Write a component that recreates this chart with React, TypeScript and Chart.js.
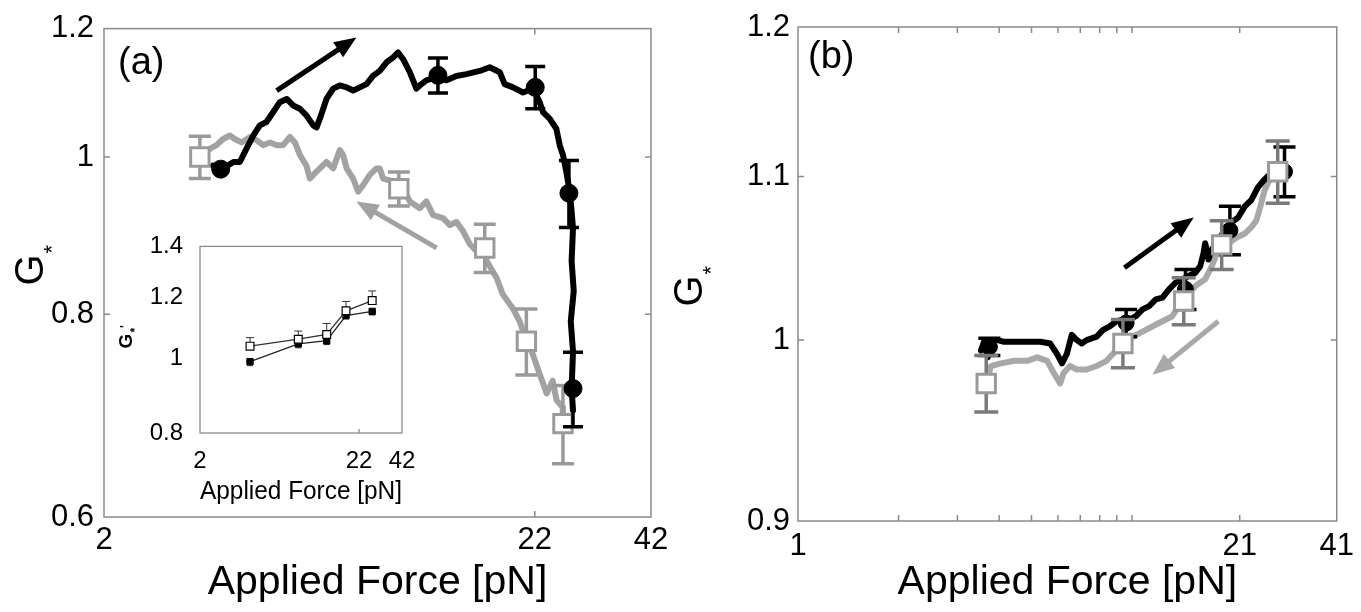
import React, { useEffect, useRef } from 'react';
import { Chart, registerables } from 'chart.js';

Chart.register(...registerables);

const FONT = '"Liberation Sans", Arial, Helvetica, sans-serif';

// ---------- Panel (a) ----------
// increasing force (black trace)
const aUpForce = [3.67, 3.88, 4.11, 4.26, 4.42, 4.59, 4.76, 4.94, 5.13, 5.32, 5.53, 5.73, 5.95, 6.17, 6.41, 6.53, 6.65, 6.9, 7.16, 7.43, 7.72, 8.0, 8.31, 8.62, 8.94, 9.28, 9.64, 10.0, 10.28, 10.57, 10.97, 11.38, 11.6, 12.03, 12.73, 13.45, 14.22, 15.04, 16.19, 17.12, 18.1, 18.6, 19.49, 20.6, 21.78, 22.6, 23.02, 23.89, 24.8, 25.27, 25.73, 26.22, 26.71, 26.96, 27.21, 27.0, 27.32, 26.87, 27.21, 27.0, 27.21];
const aUpG = [0.988, 0.984, 0.993, 0.993, 1.012, 1.031, 1.046, 1.051, 1.066, 1.081, 1.086, 1.076, 1.071, 1.061, 1.046, 1.043, 1.056, 1.086, 1.102, 1.107, 1.104, 1.099, 1.104, 1.109, 1.122, 1.13, 1.144, 1.152, 1.16, 1.149, 1.128, 1.102, 1.107, 1.115, 1.12, 1.115, 1.122, 1.125, 1.13, 1.136, 1.128, 1.109, 1.104, 1.096, 1.102, 1.081, 1.066, 1.056, 1.041, 1.017, 1.003, 0.979, 0.952, 0.93, 0.904, 0.863, 0.827, 0.792, 0.759, 0.72, 0.698];
// decreasing force (grey trace)
const aDownForce = [3.41, 3.61, 3.74, 3.88, 4.03, 4.14, 4.3, 4.51, 4.68, 4.85, 5.04, 5.23, 5.42, 5.63, 5.79, 5.95, 6.17, 6.29, 6.41, 6.65, 6.9, 7.16, 7.43, 7.57, 7.72, 8.0, 8.23, 8.46, 8.78, 9.11, 9.28, 9.46, 10.0, 10.57, 10.97, 11.6, 12.03, 12.49, 13.2, 13.71, 14.22, 14.76, 15.31, 15.9, 16.65, 16.83, 17.8, 18.4, 19.45, 20.22, 21.02, 21.75, 22.6, 23.5, 24.3, 24.84, 25.69, 25.73];
const aDownG = [1.0, 1.012, 1.017, 1.026, 1.031, 1.026, 1.021, 1.029, 1.024, 1.017, 1.021, 1.017, 1.017, 1.029, 1.021, 1.003, 0.988, 0.97, 0.975, 0.984, 0.993, 0.984, 1.01, 1.003, 0.984, 0.97, 0.952, 0.961, 0.975, 0.984, 0.984, 0.97, 0.966, 0.956, 0.939, 0.93, 0.939, 0.921, 0.917, 0.908, 0.912, 0.9, 0.884, 0.875, 0.878, 0.863, 0.842, 0.823, 0.807, 0.792, 0.77, 0.756, 0.735, 0.715, 0.728, 0.708, 0.701, 0.685];
// markers with error bars
const aCircleForce = [3.83, 12.83, 22.05, 26.6, 27.21];
const aCircleG = [0.983, 1.123, 1.104, 0.95, 0.72];
const aCircleErr = [0, 0.028, 0.033, 0.045, 0.038];
const aSquareForce = [3.41, 10.32, 16.65, 20.99, 25.73];
const aSquareG = [1.0, 0.956, 0.879, 0.77, 0.685];
const aSquareErr = [0.03, 0.023, 0.03, 0.036, 0.038];
// axes
const aXTicks = [2, 22, 42];
const aXTickLabels = ['2', '22', '42'];
const aYTicks = [0.6, 0.8, 1, 1.2];
const aYTickLabels = ['0.6', '0.8', '1', '1.2'];
// arrows [force, G]
const aArrowUpFrom = [5.23, 1.099];
const aArrowUpTo = [8.15, 1.185];
const aArrowDownFrom = [12.73, 0.879];
const aArrowDownTo = [8.15, 0.939];

// ---------- Inset of (a) ----------
const insetForce = [4.25, 8.8, 13.5, 18.06, 26.8];
const insetOpenG = [1.038, 1.06, 1.075, 1.154, 1.19];
const insetOpenErr = [0.027, 0.026, 0.036, 0.033, 0.035];
const insetFilledG = [0.991, 1.045, 1.055, 1.138, 1.152];
const insetFilledErr = [0.012, 0.012, 0.012, 0.012, 0.012];
const insetXTicks = [2, 22, 42];
const insetXTickLabels = ['2', '22', '42'];
const insetYTicks = [0.8, 1, 1.2, 1.4];
const insetYTickLabels = ['0.8', '1', '1.2', '1.4'];

// ---------- Panel (b) ----------
const bUpForce = [3.53, 3.62, 3.7, 3.8, 3.96, 4.14, 4.44, 4.86, 5.32, 5.69, 5.96, 6.17, 6.38, 6.6, 6.83, 7.07, 7.31, 7.83, 8.19, 8.57, 8.97, 9.39, 9.82, 10.27, 10.75, 11.25, 11.78, 12.33, 12.9, 13.5, 14.13, 14.77, 15.47, 16.0, 16.37, 16.55, 16.74, 16.93, 17.33, 18.13, 18.97, 19.86, 20.77, 21.75, 22.76, 23.81, 24.92, 26.09];
const bUpG = [0.994, 1.0, 0.99, 1.0, 1.0, 0.999, 0.999, 0.999, 0.999, 0.998, 0.992, 0.9865, 0.992, 1.003, 1.0, 0.998, 1.0, 1.002, 1.006, 1.008, 1.011, 1.012, 1.012, 1.014, 1.018, 1.02, 1.024, 1.025, 1.03, 1.034, 1.036, 1.038, 1.04, 1.044, 1.052, 1.058, 1.054, 1.048, 1.054, 1.06, 1.066, 1.071, 1.074, 1.081, 1.085, 1.093, 1.098, 1.102];
const bDownForce = [3.66, 3.78, 4.05, 4.44, 4.86, 5.2, 5.57, 5.83, 6.09, 6.24, 6.52, 6.83, 7.31, 7.83, 8.38, 8.97, 9.39, 10.05, 11.0, 12.04, 13.2, 13.8, 14.45, 15.47, 16.55, 17.33, 18.13, 19.41, 20.77, 21.75, 22.76, 23.55, 24.08, 24.92, 26.09, 27.29];
const bDownG = [0.975, 0.985, 0.9865, 0.988, 0.988, 0.99, 0.988, 0.981, 0.975, 0.981, 0.985, 0.983, 0.983, 0.985, 0.988, 0.994, 0.998, 1.002, 1.006, 1.01, 1.014, 1.02, 1.025, 1.032, 1.036, 1.044, 1.054, 1.058, 1.062, 1.064, 1.068, 1.072, 1.079, 1.091, 1.1, 1.103];
const bCircleForce = [3.74, 9.6, 14.45, 19.63, 28.6];
const bCircleG = [0.996, 1.01, 1.03, 1.066, 1.103];
const bCircleErr = [0.005, 0.008, 0.012, 0.015, 0.016];
const bSquareForce = [3.66, 9.39, 14.28, 18.55, 27.29];
const bSquareG = [0.975, 0.998, 1.023, 1.057, 1.103];
const bSquareErr = [0.016, 0.014, 0.014, 0.015, 0.02];
const bXTicks = [1, 2, 3, 4, 5, 6, 7, 8, 9, 10, 21, 41];
const bXTickLabels = ['1', '', '', '', '', '', '', '', '', '', '21', '41'];
const bYTicks = [0.9, 1, 1.1, 1.2];
const bYTickLabels = ['0.9', '1', '1.1', '1.2'];
const bArrowUpFrom = [9.49, 1.043];
const bArrowUpTo = [15.29, 1.074];
const bArrowDownFrom = [18.13, 1.011];
const bArrowDownTo = [11.51, 0.98];

// ---------- helpers ----------
const pts = (xs: number[], ys: number[]) => xs.map((x, i) => ({ x, y: ys[i] }));
const labelOf = (vals: number[], labels: string[], v: number) => {
  const i = vals.findIndex((t) => Math.abs(t - v) < 1e-9);
  return i >= 0 ? labels[i] : '';
};

function logAxis(min: number, max: number, ticks: number[], labels: string[], size: number, pad: number, prop: string, val: number, title?: any) {
  return {
    type: 'logarithmic',
    min,
    max,
    grid: { display: false, drawTicks: false },
    border: { display: false },
    afterBuildTicks: (s: any) => {
      s.ticks = ticks.map((v) => ({ value: v }));
    },
    afterFit: (s: any) => {
      s[prop] = val;
    },
    ticks: {
      autoSkip: false,
      maxRotation: 0,
      minRotation: 0,
      padding: pad,
      color: '#000',
      font: { family: FONT, size },
      callback: (v: any) => labelOf(ticks, labels, Number(v)),
    },
    title: title || { display: false },
  };
}

function drawErr(ctx: any, xs: any, ys: any, e: any) {
  ctx.save();
  ctx.strokeStyle = e.color;
  ctx.lineWidth = e.width;
  ctx.lineCap = 'butt';
  e.xs.forEach((x: number, i: number) => {
    const err = e.errs[i];
    if (!err) return;
    const px = xs.getPixelForValue(x);
    const pc = ys.getPixelForValue(e.ys[i]);
    const ph = ys.getPixelForValue(e.ys[i] + err);
    const pl = ys.getPixelForValue(e.ys[i] - err);
    const top = e.mode === 'down' ? pc : ph;
    const bot = e.mode === 'up' ? pc : pl;
    ctx.beginPath();
    ctx.moveTo(px, top);
    ctx.lineTo(px, bot);
    if (e.mode !== 'down') {
      ctx.moveTo(px - e.cap / 2, ph);
      ctx.lineTo(px + e.cap / 2, ph);
    }
    if (e.mode !== 'up') {
      ctx.moveTo(px - e.cap / 2, pl);
      ctx.lineTo(px + e.cap / 2, pl);
    }
    ctx.stroke();
  });
  ctx.restore();
}

function drawArrow(ctx: any, xs: any, ys: any, a: any) {
  const x1 = xs.getPixelForValue(a.from[0]);
  const y1 = ys.getPixelForValue(a.from[1]);
  const x2 = xs.getPixelForValue(a.to[0]);
  const y2 = ys.getPixelForValue(a.to[1]);
  const ang = Math.atan2(y2 - y1, x2 - x1);
  const bx = x2 - Math.cos(ang) * a.head;
  const by = y2 - Math.sin(ang) * a.head;
  ctx.save();
  ctx.strokeStyle = a.color;
  ctx.fillStyle = a.color;
  ctx.lineWidth = a.width;
  ctx.beginPath();
  ctx.moveTo(x1, y1);
  ctx.lineTo(bx + Math.cos(ang) * 2, by + Math.sin(ang) * 2);
  ctx.stroke();
  ctx.beginPath();
  ctx.moveTo(x2, y2);
  ctx.lineTo(bx + Math.sin(ang) * a.headW, by - Math.cos(ang) * a.headW);
  ctx.lineTo(bx - Math.sin(ang) * a.headW, by + Math.cos(ang) * a.headW);
  ctx.closePath();
  ctx.fill();
  ctx.restore();
}

function makeDecor(id: string, d: any) {
  return {
    id,
    beforeDatasetDraw(chart: any, args: any) {
      const xs = chart.scales.x;
      const ys = chart.scales.y;
      (d.errs || []).filter((e: any) => e.ds === args.index).forEach((e: any) => drawErr(chart.ctx, xs, ys, e));
    },
    afterDatasetsDraw(chart: any) {
      const { ctx, chartArea: ca } = chart;
      const xs = chart.scales.x;
      const ys = chart.scales.y;
      ctx.save();
      ctx.strokeStyle = d.frameColor;
      ctx.lineWidth = d.frameWidth;
      ctx.strokeRect(ca.left, ca.top, ca.right - ca.left, ca.bottom - ca.top);
      ctx.beginPath();
      const L = d.tickLen;
      d.xTicks.forEach((v: number) => {
        const p = xs.getPixelForValue(v);
        ctx.moveTo(p, ca.bottom);
        ctx.lineTo(p, ca.bottom - L);
        if (d.mirror) {
          ctx.moveTo(p, ca.top);
          ctx.lineTo(p, ca.top + L);
        }
      });
      d.yTicks.forEach((v: number) => {
        const p = ys.getPixelForValue(v);
        ctx.moveTo(ca.left, p);
        ctx.lineTo(ca.left + L, p);
        if (d.mirror) {
          ctx.moveTo(ca.right, p);
          ctx.lineTo(ca.right - L, p);
        }
      });
      ctx.stroke();
      ctx.restore();
      (d.arrows || []).forEach((a: any) => drawArrow(ctx, xs, ys, a));
      if (d.label) {
        ctx.save();
        ctx.fillStyle = '#000';
        ctx.font = `${d.label.size}px ${FONT}`;
        ctx.textAlign = 'left';
        ctx.textBaseline = 'alphabetic';
        ctx.fillText(d.label.text, ca.left + d.label.dx, ca.top + d.label.dy);
        ctx.restore();
      }
      if (d.yTitle) {
        const t = d.yTitle;
        ctx.save();
        ctx.translate(t.x, t.y);
        ctx.rotate(-Math.PI / 2);
        ctx.fillStyle = '#000';
        ctx.textAlign = 'left';
        ctx.textBaseline = 'alphabetic';
        ctx.font = `${t.bold ? 'bold ' : ''}${t.size}px ${FONT}`;
        const gw = ctx.measureText('G').width;
        ctx.fillText('G', -gw / 2, 0);
        ctx.font = `${t.bold ? 'bold ' : ''}${t.subSize}px ${FONT}`;
        const sw = ctx.measureText('*').width;
        ctx.fillText('*', gw / 2 + 1, t.subDrop);
        if (t.sup) ctx.fillText(t.sup, gw / 2 + 1 + sw, t.supRise);
        ctx.restore();
      }
    },
  };
}

const GREY_LINE = '#a2a2a2';
const GREY_MARK = '#9a9a9a';

export default function App() {
  const aRef = useRef<HTMLCanvasElement>(null);
  const bRef = useRef<HTMLCanvasElement>(null);
  const iRef = useRef<HTMLCanvasElement>(null);

  useEffect(() => {
    const charts: any[] = [];
    const traceDs = (xs: number[], ys: number[], color: string, order: number) => ({
      data: pts(xs, ys),
      showLine: true,
      borderColor: color,
      borderWidth: 6,
      borderJoinStyle: 'round',
      borderCapStyle: 'round',
      pointRadius: 0,
      order,
    });
    const xTitle = {
      display: true,
      text: 'Applied Force [pN]',
      color: '#000',
      font: { family: FONT, size: 41 },
      padding: { top: 0, bottom: 5 },
    };

    // Panel (a)
    charts.push(
      new Chart(aRef.current as any, {
        type: 'scatter',
        data: {
          datasets: [
            traceDs(aDownForce, aDownG, GREY_LINE, 3),
            traceDs(aUpForce, aUpG, '#000', 2),
            {
              data: pts(aSquareForce, aSquareG),
              pointStyle: 'rect',
              pointRadius: 13,
              pointBackgroundColor: '#fff',
              pointBorderColor: GREY_MARK,
              pointBorderWidth: 3,
              order: 1,
            },
            {
              data: pts(aCircleForce, aCircleG),
              pointStyle: 'circle',
              pointRadius: 9,
              pointBackgroundColor: '#000',
              pointBorderColor: '#000',
              pointBorderWidth: 1,
              order: 0,
            },
          ],
        } as any,
        options: {
          responsive: false,
          animation: false,
          layout: { padding: { top: 26, right: 29, left: 0, bottom: 0 } },
          plugins: { legend: { display: false }, tooltip: { enabled: false } },
          scales: {
            x: logAxis(2, 42, aXTicks, aXTickLabels, 31, 5, 'height', 95, xTitle),
            y: logAxis(0.6, 1.2, aYTicks, aYTickLabels, 31, 10, 'width', 104),
          },
        } as any,
        plugins: [
          makeDecor('decorA', {
            frameColor: '#8a8a8a',
            frameWidth: 1.5,
            tickLen: 6,
            mirror: true,
            xTicks: [22],
            yTicks: [0.8, 1],
            errs: [
              { ds: 2, xs: aSquareForce, ys: aSquareG, errs: aSquareErr, color: GREY_MARK, width: 3.5, cap: 22, mode: 'both' },
              { ds: 3, xs: aCircleForce, ys: aCircleG, errs: aCircleErr, color: '#000', width: 3.5, cap: 20, mode: 'both' },
            ],
            arrows: [
              { from: aArrowUpFrom, to: aArrowUpTo, color: '#000', width: 5, head: 22, headW: 9 },
              { from: aArrowDownFrom, to: aArrowDownTo, color: GREY_LINE, width: 5, head: 22, headW: 9 },
            ],
            label: { text: '(a)', dx: 14, dy: 45, size: 38 },
            yTitle: { x: 43, y: 270, size: 40, subSize: 22, subDrop: 16 },
          }),
        ],
      })
    );

    // Inset
    charts.push(
      new Chart(iRef.current as any, {
        type: 'scatter',
        data: {
          datasets: [
            {
              data: pts(insetForce, insetFilledG),
              showLine: true,
              borderColor: '#222',
              borderWidth: 1.3,
              pointStyle: 'rect',
              pointRadius: 4.5,
              pointBackgroundColor: '#000',
              pointBorderColor: '#000',
              pointBorderWidth: 1,
              order: 1,
            },
            {
              data: pts(insetForce, insetOpenG),
              showLine: true,
              borderColor: '#333',
              borderWidth: 1.3,
              pointStyle: 'rect',
              pointRadius: 5.5,
              pointBackgroundColor: '#fff',
              pointBorderColor: '#000',
              pointBorderWidth: 1.2,
              order: 0,
            },
          ],
        } as any,
        options: {
          responsive: false,
          animation: false,
          layout: { padding: { top: 20, right: 28, left: 0, bottom: 0 } },
          plugins: { legend: { display: false }, tooltip: { enabled: false } },
          scales: {
            x: logAxis(2, 42, insetXTicks, insetXTickLabels, 24, 14, 'height', 82, {
              display: true,
              text: 'Applied Force [pN]',
              color: '#000',
              font: { family: FONT, size: 26 },
              padding: { top: 0, bottom: 8 },
            }),
            y: logAxis(0.8, 1.4, insetYTicks, insetYTickLabels, 24, 17, 'width', 100),
          },
        } as any,
        plugins: [
          makeDecor('decorI', {
            frameColor: '#8a8a8a',
            frameWidth: 1.3,
            tickLen: 4,
            mirror: false,
            xTicks: [22],
            yTicks: [],
            errs: [
              { ds: 0, xs: insetForce, ys: insetFilledG, errs: insetFilledErr, color: '#333', width: 1, cap: 6, mode: 'down' },
              { ds: 1, xs: insetForce, ys: insetOpenG, errs: insetOpenErr, color: '#333', width: 1, cap: 8, mode: 'up' },
            ],
            arrows: [],
            yTitle: { x: 32, y: 126, size: 19, subSize: 12, subDrop: 7, bold: true, sup: "'", supRise: -3 },
          }),
        ],
      })
    );

    // Panel (b)
    charts.push(
      new Chart(bRef.current as any, {
        type: 'scatter',
        data: {
          datasets: [
            traceDs(bDownForce, bDownG, '#a8a8a8', 3),
            traceDs(bUpForce, bUpG, '#000', 2),
            {
              data: pts(bCircleForce, bCircleG),
              pointStyle: 'circle',
              pointRadius: 8,
              pointBackgroundColor: '#000',
              pointBorderColor: '#000',
              pointBorderWidth: 1,
              order: 1,
            },
            {
              data: pts(bSquareForce, bSquareG),
              pointStyle: 'rect',
              pointRadius: 13,
              pointBackgroundColor: '#fff',
              pointBorderColor: GREY_MARK,
              pointBorderWidth: 3,
              order: 0,
            },
          ],
        } as any,
        options: {
          responsive: false,
          animation: false,
          layout: { padding: { top: 27, right: 18, left: 0, bottom: 0 } },
          plugins: { legend: { display: false }, tooltip: { enabled: false } },
          scales: {
            x: logAxis(1, 41, bXTicks, bXTickLabels, 31, 7, 'height', 91, xTitle),
            y: logAxis(0.9, 1.2, bYTicks, bYTickLabels, 31, 8, 'width', 148),
          },
        } as any,
        plugins: [
          makeDecor('decorB', {
            frameColor: '#8a8a8a',
            frameWidth: 1.5,
            tickLen: 6,
            mirror: true,
            xTicks: [2, 3, 4, 5, 6, 7, 8, 9, 10, 21],
            yTicks: [1, 1.1],
            errs: [
              { ds: 2, xs: bCircleForce, ys: bCircleG, errs: bCircleErr, color: '#000', width: 3.5, cap: 22, mode: 'both' },
              { ds: 3, xs: bSquareForce, ys: bSquareG, errs: bSquareErr, color: '#7a7a7a', width: 3.5, cap: 24, mode: 'both' },
            ],
            arrows: [
              { from: bArrowUpFrom, to: bArrowUpTo, color: '#000', width: 5, head: 22, headW: 9 },
              { from: bArrowDownFrom, to: bArrowDownTo, color: '#a8a8a8', width: 5, head: 22, headW: 9 },
            ],
            label: { text: '(b)', dx: 10, dy: 41, size: 38 },
            yTitle: { x: 52, y: 291, size: 40, subSize: 22, subDrop: 16 },
          }),
        ],
      })
    );

    return () => charts.forEach((c) => c.destroy());
  }, []);

  const abs = (left: number, top: number): React.CSSProperties => ({ position: 'absolute', left, top, display: 'block' });

  return (
    <div style={{ position: 'absolute', left: 0, top: 0, width: 1361, height: 612, background: '#fff', overflow: 'hidden' }}>
      <canvas ref={aRef} width={680} height={612} style={abs(0, 0)} />
      <canvas ref={bRef} width={711} height={612} style={abs(650, 0)} />
      <canvas ref={iRef} width={330} height={300} style={abs(100, 215)} />
    </div>
  );
}
